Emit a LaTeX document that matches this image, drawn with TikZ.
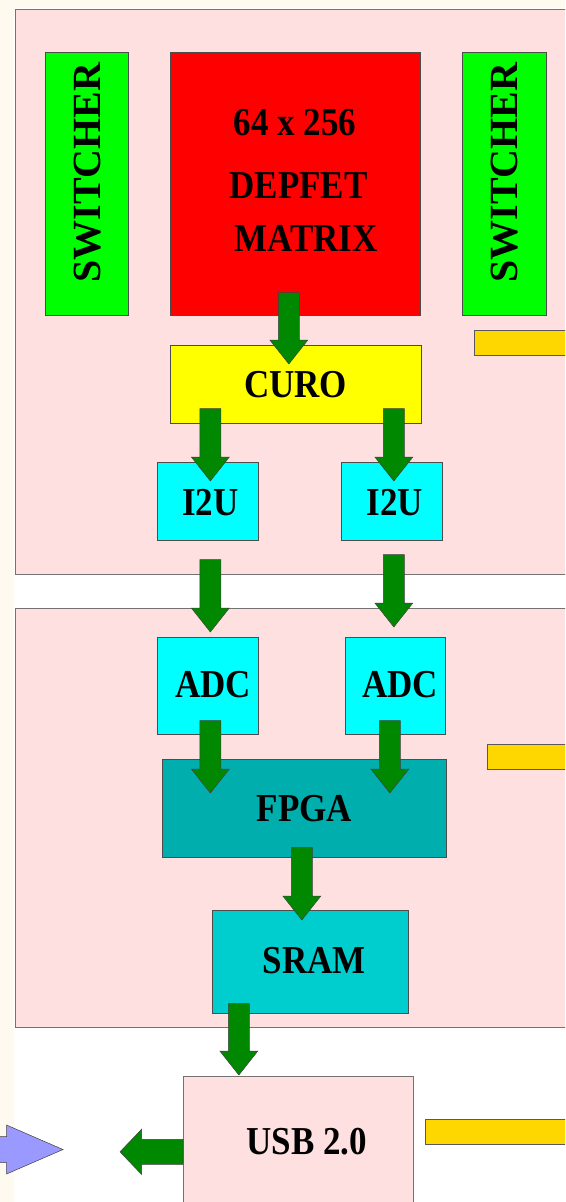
\documentclass[tikz,border=0pt]{standalone}
\usepackage{fontspec}
\setmainfont{Liberation Serif}
\usetikzlibrary{calc}
\definecolor{pagecream}{HTML}{FFFAF0}
\definecolor{panelpink}{HTML}{FFE0E0}
\definecolor{switchgreen}{HTML}{00FF00}
\definecolor{matrixred}{HTML}{FF0000}
\definecolor{curoyellow}{HTML}{FFFF00}
\definecolor{chipcyan}{HTML}{00FFFF}
\definecolor{fpgateal}{HTML}{00AEAE}
\definecolor{sramteal}{HTML}{00CDCD}
\definecolor{busgold}{HTML}{FFD700}
\definecolor{flowgreen}{HTML}{008800}
\definecolor{pcblue}{HTML}{9999FF}
\newcommand{\tall}[1]{\scalebox{1}[1.13]{#1}}
% style, start, tip, shaft half width, head half width, head length
\newcommand{\blockflow}[6]{%
  \coordinate (flowstart) at (#2);
  \coordinate (flowtip) at (#3);
  \coordinate (flowbase) at ($(flowtip)!#6!(flowstart)$);
  \filldraw[#1] ($(flowstart)!#4!90:(flowtip)$) -- ($(flowbase)!#4!-90:(flowstart)$)
    -- ($(flowbase)!#5!-90:(flowstart)$) -- (flowtip) -- ($(flowbase)!#5!90:(flowstart)$)
    -- ($(flowbase)!#4!90:(flowstart)$) -- ($(flowstart)!#4!-90:(flowtip)$) -- cycle;}
\tikzset{
  panel/.style={draw=black!55,fill=panelpink,line width=0.8pt,inner sep=0pt,anchor=north west},
  chip/.style={draw=black!70,line width=0.7pt,inner sep=0pt,anchor=north west,
    font=\fontsize{35}{40}\selectfont\bfseries},
  chiplabel/.style={inner sep=0pt,font=\fontsize{35}{40}\selectfont\bfseries},
  busbar/.style={draw=black!65,fill=busgold,line width=0.7pt,inner sep=0pt,
    anchor=north west,minimum height=24.5pt},
  flow/.style={fill=flowgreen,draw=black!75,line width=0.5pt},
  pclink/.style={fill=pcblue,draw=black!75,line width=0.5pt}
}
\begin{document}
\begin{tikzpicture}[x=1pt,y=-1pt]
\useasboundingbox (0,0) rectangle (565,1202);
\clip (0,0) rectangle (565,1202);
\fill[pagecream] (0,0) rectangle (565,1202);
\fill[white] (14,8) rectangle (565,1202);

% Both boards run on past the right edge of the slide.
\node[panel,minimum width=600pt,minimum height=565pt] (boardA) at (15,9) {};
\node[panel,minimum width=600pt,minimum height=419pt] (boardB) at (15,608) {};

\node[chip,fill=switchgreen,minimum width=83pt,minimum height=263pt] (swL) at (45,52) {};
\node[chip,fill=matrixred,minimum width=250pt,minimum height=263pt] (matrix) at (170,52) {};
\node[chip,fill=switchgreen,minimum width=83.5pt,minimum height=263pt] (swR) at (462,52) {};
\node[chiplabel,rotate=90,font=\fontsize{40}{44}\selectfont\bfseries] (swLtext) at (87.5,172.5) {SWITCHER};
\node[chiplabel,rotate=90,font=\fontsize{40}{44}\selectfont\bfseries] (swRtext) at (504.5,172.5) {SWITCHER};
\node[chiplabel,anchor=base] (matsize) at (295,135) {\tall{64 x 256}};
\node[chiplabel,anchor=base] (matname) at (298.5,198) {\tall{DEPFET}};
\node[chiplabel,anchor=base] (matword) at (306,251.7) {\tall{MATRIX}};

\node[chip,fill=curoyellow,minimum width=250.5pt,minimum height=77.5pt] (curo) at (170,345) {\tall{CURO}};
\node[chip,fill=chipcyan,minimum width=101pt,minimum height=78pt] (i2uL) at (157,462) {};
\node[chip,fill=chipcyan,minimum width=101pt,minimum height=78pt] (i2uR) at (341,462) {};
\node[chiplabel] (i2uLtext) at ($(i2uL.center)+(2.5,1)$) {\tall{I2U}};
\node[chiplabel] (i2uRtext) at ($(i2uR.center)+(3,1)$) {\tall{I2U}};
\node[busbar,minimum width=110pt] (busA) at (474,330) {};

\node[chip,fill=chipcyan,minimum width=101pt,minimum height=97pt] (adcL) at (157,637) {};
\node[chip,fill=chipcyan,minimum width=100pt,minimum height=97pt] (adcR) at (345,637) {};
\node[chiplabel] (adcLtext) at ($(adcL.center)+(5.5,-1)$) {\tall{ADC}};
\node[chiplabel] (adcRtext) at ($(adcR.center)+(5,-1)$) {\tall{ADC}};
\node[chip,fill=fpgateal,minimum width=284pt,minimum height=98pt] (fpga) at (162,759) {\tall{FPGA}};
\node[chip,fill=sramteal,minimum width=196pt,minimum height=103pt] (sram) at (212,910) {};
\node[chiplabel] (sramtext) at ($(sram.center)+(4,-1)$) {\tall{SRAM}};
\node[busbar,minimum width=100pt] (busB) at (487,744) {};

\node[chip,fill=panelpink,draw=black!55,minimum width=229.5pt,minimum height=130pt] (usb) at (183,1076) {};
\node[chiplabel] (usbtext) at ($(usb.center)+(8.5,0)$) {\tall{USB 2.0}};
\node[busbar,minimum width=160pt] (busC) at (424.5,1119) {};

% Block arrows sit on top of the chips they join.
\blockflow{flow}{$(matrix.south)+(-6.5,-23)$}{$(curo.north)+(-6.75,19)$}{10.5pt}{19pt}{24pt}
\blockflow{flow}{$(i2uL.north |- curo.south)+(2.5,-14.5)$}{$(i2uL.north)+(2.5,19)$}{10.5pt}{19pt}{24pt}
\blockflow{flow}{$(i2uR.north |- curo.south)+(2,-14.5)$}{$(i2uR.north)+(2,19)$}{10.5pt}{19pt}{24pt}
\blockflow{flow}{$(i2uL.south)+(2.5,19)$}{$(adcL.north)+(2.5,-5)$}{10.5pt}{19pt}{24pt}
\blockflow{flow}{$(i2uR.south)+(2,14)$}{$(adcR.north)+(-1.5,-10)$}{10.5pt}{19pt}{24pt}
\blockflow{flow}{$(adcL.south)+(2.5,-14)$}{$(adcL.south |- fpga.north)+(2.5,34)$}{10.5pt}{19pt}{24pt}
\blockflow{flow}{$(adcR.south)+(-5.5,-14)$}{$(adcR.south |- fpga.north)+(-5.5,34)$}{10.5pt}{19pt}{24pt}
\blockflow{flow}{$(fpga.south)+(-2.5,-10)$}{$(sram.north)+(-8.5,10)$}{10.5pt}{19pt}{24pt}
\blockflow{flow}{$(sram.south)+(-71.5,-10)$}{$(usb.north)+(-59.25,-1)$}{10.5pt}{19pt}{24pt}
\blockflow{flow}{$(usb.west)+(0,10.5)$}{$(usb.west)+(-63,10.5)$}{12.5pt}{22.5pt}{21.5pt}

\coordinate (pcend) at (-20,1149.5);
\coordinate (pctip) at (63,1149.5);
\blockflow{pclink}{pcend}{pctip}{13pt}{24.5pt}{56.5pt}
\end{tikzpicture}
\end{document}
